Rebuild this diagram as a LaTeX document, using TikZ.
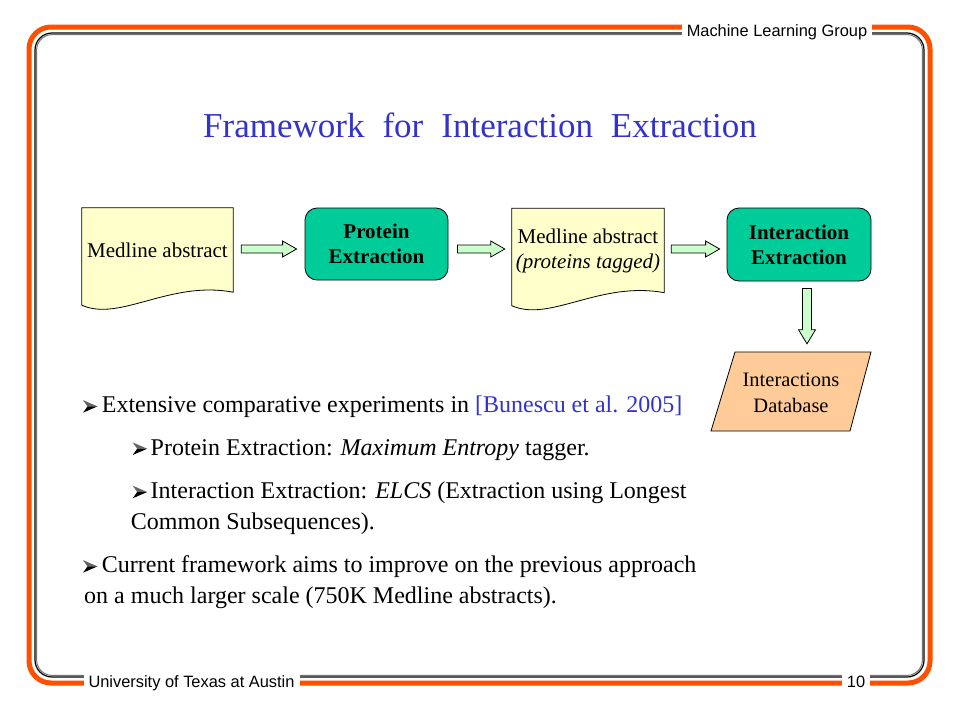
\documentclass[tikz,border=0pt]{standalone}
\usepackage{fontspec}
\setmainfont{Liberation Serif}
\newfontfamily\labfont{Liberation Sans}
\usetikzlibrary{calc,backgrounds}
\definecolor{frameorange}{RGB}{255,80,0}
\definecolor{titleblue}{RGB}{51,51,204}
\definecolor{docyellow}{RGB}{255,255,204}
\definecolor{procgreen}{RGB}{0,204,153}
\definecolor{arrowgreen}{RGB}{204,255,204}
\definecolor{dborange}{RGB}{255,204,153}
\newcommand\hblockarrow[2]{\filldraw[barrow] let \p1=(#1), \p2=(#2) in
  (\x1,\y1+4pt) -- (\x2-14pt,\y1+4pt) -- (\x2-14pt,\y1+8pt) -- (\x2,\y1) --
  (\x2-14pt,\y1-8pt) -- (\x2-14pt,\y1-4pt) -- (\x1,\y1-4pt) -- cycle;}
\newcommand\vblockarrow[2]{\filldraw[barrow] let \p1=(#1), \p2=(#2) in
  (\x1-4.5pt,\y1) -- (\x1-4.5pt,\y2+14pt) -- (\x1-8.5pt,\y2+14pt) -- (\x1,\y2) --
  (\x1+8.5pt,\y2+14pt) -- (\x1+4.5pt,\y2+14pt) -- (\x1+4.5pt,\y1) -- cycle;}
\tikzset{
  lab/.style={font=\labfont\fontsize{16.4}{18}\selectfont, fill=white, inner xsep=5pt, inner ysep=2pt},
  titletext/.style={font=\fontsize{35}{40}\selectfont, text=titleblue, inner sep=0pt},
  doc/.style={minimum width=151pt, minimum height=84pt, inner sep=0pt, align=center, font=\fontsize{21}{25}\selectfont},
  docline/.style={draw=black, line width=0.8pt, fill=docyellow},
  proc/.style={draw=black, line width=0.8pt, fill=procgreen, rounded corners=12pt, minimum width=143pt, minimum height=72pt, inner sep=0pt, align=center, font=\bfseries\fontsize{21}{25}\selectfont},
  barrow/.style={draw=black, line width=0.8pt, fill=arrowgreen},
  dbline/.style={draw=black, line width=0.8pt, fill=dborange},
  dbtext/.style={minimum width=160pt, minimum height=79pt, inner sep=0pt, align=center, font=\fontsize{20.5}{26}\selectfont},
  btext/.style={anchor=base west, inner sep=0pt, font=\fontsize{24}{31}\selectfont},
  arrowbullet/.pic={
    \fill[black!60] (0,-12.6) -- (14.5,-6.3) -- (4.5,-6.3) -- cycle;
    \fill[black] (4.5,-6.3) -- (14.5,-6.3) -- (0,0) -- cycle;
  },
}
\begin{document}
\begin{tikzpicture}[x=1pt,y=-1pt]
\useasboundingbox (0,0) rectangle (960,720);
\begin{pgfonlayer}{background}
\fill[white] (0,0) rectangle (960,720);
\end{pgfonlayer}
% frame
\draw[frameorange, line width=5pt, rounded corners=22pt] (29,27) rectangle (930,683);
\draw[black!55, line width=1pt, rounded corners=15.5pt] (36.6,34.6) rectangle (922.4,675.4);
\draw[black, line width=1.2pt, rounded corners=17pt] (35,33) rectangle (924,677);
\node[lab, anchor=base] (mlg) at (777,36) {Machine Learning Group};
\node[lab, anchor=base] (uta) at (191.5,687) {University of Texas at Austin};
\node[lab, anchor=base] (pnum) at (856,687) {10};
% title
\node[titletext, anchor=base] (title) at (480,137) {Framework\hspace{18pt}for\hspace{18pt}Interaction\hspace{18pt}Extraction};
% diagram nodes
\node[doc] (d1) at (157.5,250) {Medline abstract};
\node[proc] (p1) at (376.5,244) {Protein\\Extraction};
\node[doc, minimum width=152pt] (d2) at (588,250.5) {Medline abstract\\\textit{(proteins tagged)}};
\node[proc, minimum width=144pt, minimum height=73pt] (p2) at (799,244.5) {Interaction\\Extraction};
\node[dbtext] (db) at (791,392.5) {Interactions\\Database};
\begin{pgfonlayer}{background}
\draw[docline] (d1.north west) -- (d1.north east) -- (d1.south east)
  .. controls ($(d1.south west)+(88,-12)$) and ($(d1.south west)+(38,30)$) .. ($(d1.south west)+(0,13)$) -- cycle;
\draw[docline] (d2.north west) -- (d2.north east) -- (d2.south east)
  .. controls ($(d2.south west)+(88,-12)$) and ($(d2.south west)+(38,30)$) .. ($(d2.south west)+(0,13)$) -- cycle;
\draw[dbline] ($(db.center)+(-56,-40.5)$) -- ($(db.center)+(80,-40.5)$) -- ($(db.center)+(59,38.5)$) -- ($(db.center)+(-80,38.5)$) -- cycle;
\end{pgfonlayer}
% block arrows
\coordinate (a1s) at ($(d1.east)+(8,-1)$);
\coordinate (a1e) at ($(p1.west)+(-8,5)$);
\coordinate (a2s) at ($(p1.east)+(9,5)$);
\coordinate (a2e) at ($(d2.west)+(-7,-1.5)$);
\coordinate (a3s) at ($(d2.east)+(7,-1.5)$);
\coordinate (a3e) at ($(p2.west)+(-7,4.5)$);
\coordinate (a4s) at ($(p2.south)+(8,7)$);
\coordinate (a4e) at ($(db.north)+(16,-9)$);
\hblockarrow{a1s}{a1e}
\hblockarrow{a2s}{a2e}
\hblockarrow{a3s}{a3e}
\vblockarrow{a4s}{a4e}
% bullets
\pic at (83,412.7) {arrowbullet};
\node[btext] (b1) at (101.7,412.7) {Extensive comparative experiments in \textcolor{titleblue}{[Bunescu et al. 2005]}};
\pic at (132.7,455) {arrowbullet};
\node[btext] (b2) at (150.5,455) {Protein Extraction: \textit{Maximum Entropy} tagger.};
\pic at (132.7,498.3) {arrowbullet};
\node[btext] (b3) at (150.5,498.3) {Interaction Extraction: \textit{ELCS} (Extraction using Longest};
\node[btext] (b3b) at (130.7,529.3) {Common Subsequences).};
\pic at (83,572.7) {arrowbullet};
\node[btext] (b4) at (101.7,572.7) {Current framework aims to improve on the previous approach};
\node[btext] (b4b) at (84,603.3) {on a much larger scale (750K Medline abstracts).};
\end{tikzpicture}
\end{document}
